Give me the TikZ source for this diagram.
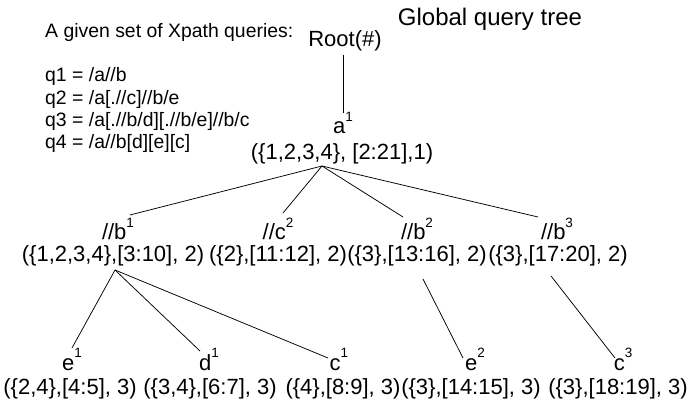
\documentclass[tikz,border=0pt]{standalone}
\usepackage{fontspec}
\setmainfont{Liberation Sans}
% small raised index after a node letter
\newcommand\upidx[1]{\raisebox{0.55em}{\fontsize{13.5}{14}\selectfont #1}}
\begin{document}
\begin{tikzpicture}[x=1pt,y=-1pt,
  note/.style={inner sep=0pt, anchor=base west, font=\fontsize{19.4}{22}\selectfont},
  heading/.style={inner sep=0pt, anchor=base, font=\fontsize{24}{28}\selectfont},
  tree/.style={inner sep=0pt, anchor=base, font=\fontsize{22}{26}\selectfont},
  edge/.style={line width=0.75pt, black}]
\useasboundingbox (0,0) rectangle (696,403);

% query list
\node[note] (intro) at (45,38) {A given set of Xpath queries:};
\node[note] (q1) at (45,82)  {q1 = /a//b};
\node[note] (q2) at (45,104.3) {q2 = /a[.//c]//b/e};
\node[note] (q3) at (45,126.7) {q3 = /a[.//b/d][.//b/e]//b/c};
\node[note] (q4) at (45,149) {q4 = /a//b[d][e][c]};

\node[heading] (title) at (490,26) {Global query tree};

% root and first level
\node[tree] (root) at (345,47) {Root(\#)};
\node[tree] (a) at (343,134) {a\upidx{1}};
\node[tree] (aT) at (342,160) {(\{1,2,3,4\}, [2:21],1)};

% second level
\node[tree] (b1) at (118,240) {//b\upidx{1}};
\node[tree] (c2) at (278,240) {//c\upidx{2}};
\node[tree] (b2) at (417,240) {//b\upidx{2}};
\node[tree] (b3) at (557,240) {//b\upidx{3}};
\node[tree] (b1T) at (113,262) {(\{1,2,3,4\},[3:10], 2)};
\node[tree] (c2T) at (278,262) {(\{2\},[11:12], 2)};
\node[tree] (b2T) at (417,262) {(\{3\},[13:16], 2)};
\node[tree] (b3T) at (558,262) {(\{3\},[17:20], 2)};

% third level
\node[tree] (e1) at (72,370) {e\upidx{1}};
\node[tree] (d1) at (209,370) {d\upidx{1}};
\node[tree] (c1) at (339,370) {c\upidx{1}};
\node[tree] (e2) at (475,370) {e\upidx{2}};
\node[tree] (c3) at (623,370) {c\upidx{3}};
\node[tree] (e1T) at (70,394) {(\{2,4\},[4:5], 3)};
\node[tree] (d1T) at (210,394) {(\{3,4\},[6:7], 3)};
\node[tree] (c1T) at (343,394) {(\{4\},[8:9], 3)};
\node[tree] (e2T) at (471,394) {(\{3\},[14:15], 3)};
\node[tree] (c3T) at (618,394) {(\{3\},[18:19], 3)};

% connector end points
\coordinate (rootFoot) at (343,55);
\coordinate (aHead) at (343,113);
\coordinate (aFoot) at (322,166);
\coordinate (b1Head) at (130,215);
\coordinate (c2Head) at (283,213);
\coordinate (b2Head) at (403,217);
\coordinate (b3Head) at (538,217);
\coordinate (b1Foot) at (115,270);
\coordinate (b2Foot) at (423,279);
\coordinate (b3Foot) at (551,276);
\coordinate (e1Head) at (72,348);
\coordinate (d1Head) at (200,351);
\coordinate (c1Head) at (328,358);
\coordinate (e2Head) at (463,358);
\coordinate (c3Head) at (615,358);

\draw[edge] (rootFoot) -- (aHead);
\draw[edge] (aFoot) -- (b1Head);
\draw[edge] (aFoot) -- (c2Head);
\draw[edge] (aFoot) -- (b2Head);
\draw[edge] (aFoot) -- (b3Head);
\draw[edge] (b1Foot) -- (e1Head);
\draw[edge] (b1Foot) -- (d1Head);
\draw[edge] (b1Foot) -- (c1Head);
\draw[edge] (b2Foot) -- (e2Head);
\draw[edge] (b3Foot) -- (c3Head);
\end{tikzpicture}
\end{document}
